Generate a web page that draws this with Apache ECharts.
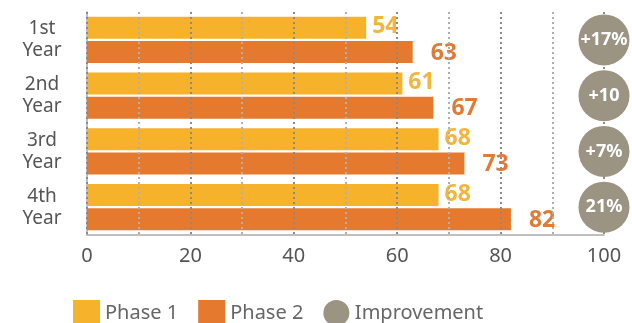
<!DOCTYPE html>
<html>
<head>
<meta charset="utf-8">
<script src="https://cdn.jsdelivr.net/npm/echarts@6/dist/echarts.min.js"></script>
<style>
  html, body { margin: 0; padding: 0; background: #fff; }
  #main { width: 632px; height: 323px; }
</style>
</head>
<body>
<div id="main"></div>
<script>
// 数据
var years = ['1st Year', '2nd Year', '3rd Year', '4th Year'];
var phase1 = [54, 61, 68, 68];
var phase2 = [63, 67, 73, 82];
var improvement = ['+17%', '+10', '+7%', '21%'];

var font = 'Noto Sans';

var chart = echarts.init(document.getElementById('main'));

var option = {
    animation: false,
    textStyle: { fontFamily: font },
    grid: { left: 87, right: 28, top: 12, bottom: 88 },
    legend: {
        top: 295,
        left: 68,
        itemWidth: 27,
        itemHeight: 26,
        itemGap: 20,
        textStyle: { fontSize: 20, color: '#666', fontFamily: font },
        data: [
            { name: 'Phase 1', icon: 'rect' },
            { name: 'Phase 2', icon: 'rect' },
            { name: 'Improvement', icon: 'circle' }
        ]
    },
    xAxis: {
        type: 'value',
        min: 0,
        max: 100,
        interval: 20,
        z: 3,
        axisLine: { show: true, lineStyle: { color: '#aaa', width: 1.5 } },
        axisTick: { show: false },
        axisLabel: { fontSize: 20, color: '#555', margin: 11, fontFamily: font },
        splitLine: {
            show: true,
            lineStyle: { color: '#8a8a8a', width: 2, type: [2, 3] }
        },
        minorTick: { show: false, splitNumber: 2 },
        minorSplitLine: {
            show: true,
            lineStyle: { color: '#b0b0b0', width: 2, type: [2, 3] }
        }
    },
    yAxis: {
        type: 'category',
        inverse: true,
        data: years,
        axisLine: { show: true, lineStyle: { color: '#aaa', width: 1.5 } },
        axisTick: { show: false },
        axisLabel: {
            fontSize: 19,
            color: '#555',
            align: 'center',
            margin: 45,
            lineHeight: 22,
            fontFamily: font,
            formatter: function (v) { return v.replace(' ', '\n'); }
        }
    },
    series: [
        {
            name: 'Phase 1',
            type: 'bar',
            data: phase1,
            barWidth: 22,
            barGap: '10%',
            itemStyle: { color: '#F6B22B' },
            label: {
                show: true,
                position: 'right',
                distance: 6,
                offset: [0, -1],
                fontSize: 23,
                fontWeight: 'bold',
                color: '#F4B53E',
                fontFamily: font
            }
        },
        {
            name: 'Phase 2',
            type: 'bar',
            data: phase2,
            barWidth: 22,
            barGap: '10%',
            itemStyle: { color: '#E5792D' },
            label: {
                show: true,
                position: 'right',
                distance: 18,
                offset: [0, 1],
                fontSize: 23,
                fontWeight: 'bold',
                color: '#E07B37',
                fontFamily: font
            }
        },
        {
            name: 'Improvement',
            type: 'scatter',
            z: 10,
            clip: false,
            symbolSize: 51,
            itemStyle: { color: '#9C9482', opacity: 1 },
            data: years.map(function (y, i) {
                return { value: [100, i], name: improvement[i] };
            }),
            label: {
                show: true,
                position: 'inside',
                formatter: '{b}',
                fontSize: 18,
                fontWeight: 'bold',
                color: '#fff',
                fontFamily: font
            }
        }
    ]
};

chart.setOption(option);
</script>
</body>
</html>
